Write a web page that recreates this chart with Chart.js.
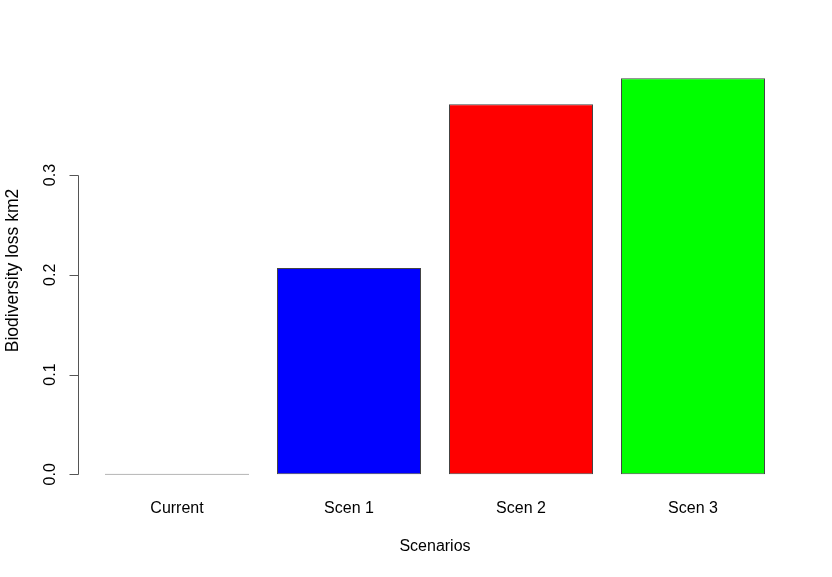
<!DOCTYPE html>
<html><head><meta charset="utf-8">
<script src="https://cdn.jsdelivr.net/npm/chart.js@4/dist/chart.umd.min.js"></script>
<style>html,body{margin:0;padding:0;background:#fff}#w{width:832px;height:577px}</style>
</head><body><div id="w"><canvas id="c" width="832" height="577"></canvas></div>
<script>
const categories = ["Current", "Scen 1", "Scen 2", "Scen 3"];
const lossValues = [0, 0.2068, 0.3709, 0.3969];
const barColors = ["#777777", "#0000ff", "#ff0000", "#00ff00"];
const yTicks = [0, 0.1, 0.2, 0.3];
const yTickLabels = ["0.0", "0.1", "0.2", "0.3"];
const xTitle = "Scenarios";
const yTitle = "Biodiversity loss km2";

const FONT = '16px "Liberation Sans", Arial, sans-serif';
const TITLE_FONT_Y = '17.5px "Liberation Sans", Arial, sans-serif';

const axesPlugin = {
  id: 'rAxes',
  afterDraw(chart) {
    const ctx = chart.ctx, y = chart.scales.y, x = chart.scales.x, ca = chart.chartArea;
    ctx.save();
    ctx.strokeStyle = '#555'; ctx.lineWidth = 1;
    const ax = 78.5;
    ctx.beginPath();
    ctx.moveTo(ax, Math.round(y.getPixelForValue(yTicks[0])) + 0.5);
    ctx.lineTo(ax, Math.round(y.getPixelForValue(yTicks[yTicks.length - 1])) + 0.5);
    yTicks.forEach(t => {
      const py = Math.round(y.getPixelForValue(t)) + 0.5;
      ctx.moveTo(ax, py); ctx.lineTo(ax - 9, py);
    });
    ctx.stroke();
    ctx.fillStyle = '#000'; ctx.font = FONT;
    ctx.textAlign = 'center'; ctx.textBaseline = 'middle';
    yTicks.forEach((t, i) => {
      const py = y.getPixelForValue(t);
      ctx.save(); ctx.translate(51, py); ctx.rotate(-Math.PI / 2);
      ctx.fillText(yTickLabels[i], 0, 0); ctx.restore();
    });
    categories.forEach((c, i) => {
      ctx.fillText(c, x.getPixelForValue(i), 509);
    });
    ctx.fillText(xTitle, (ca.left + ca.right) / 2, 547);
    ctx.font = TITLE_FONT_Y;
    ctx.save(); ctx.translate(13, 270.5); ctx.rotate(-Math.PI / 2);
    ctx.fillText(yTitle, 0, 0); ctx.restore();
    ctx.restore();
  }
};

new Chart(document.getElementById('c'), {
  type: 'bar',
  data: {
    labels: categories,
    datasets: [{
      data: lossValues,
      backgroundColor: barColors,
      borderColor: ['#888888', '#444444', '#444444', '#444444'],
      borderWidth: 1,
      borderSkipped: false,
      minBarLength: 1,
      barPercentage: 144 / 172,
      categoryPercentage: 1
    }]
  },
  options: {
    responsive: false,
    animation: false,
    layout: { padding: { left: 91, right: 53, top: 62, bottom: 86 } },
    plugins: { legend: { display: false }, tooltip: { enabled: false } },
    scales: {
      x: { display: false, offset: true },
      y: { display: false, min: -0.0167, max: 0.4133 }
    }
  },
  plugins: [axesPlugin]
});
</script></body></html>
